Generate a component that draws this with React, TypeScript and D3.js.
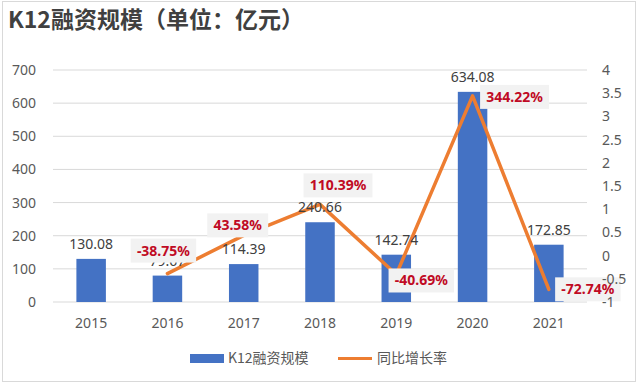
import { useEffect, useRef } from 'react';
import * as d3 from 'd3';

// values
const years = ['2015', '2016', '2017', '2018', '2019', '2020', '2021'];
const funding = [130.08, 79.67, 114.39, 240.66, 142.74, 634.08, 172.85];
const growthYears = ['2016', '2017', '2018', '2019', '2020', '2021'];
const growth = [-0.3875, 0.4358, 1.1039, -0.4069, 3.4422, -0.7274];
const growthLabels = ['-38.75%', '43.58%', '110.39%', '-40.69%', '344.22%', '-72.74%'];
const leftTicks = [0, 100, 200, 300, 400, 500, 600, 700];
const rightTicks = [-1, -0.5, 0, 0.5, 1, 1.5, 2, 2.5, 3, 3.5, 4];

// manual nudges of the growth labels (box centre relative to point), as in the source
const labelNudge: [number, number][] = [[-4, -23], [-6, -10], [18, -19], [25, 6], [42, 1], [39, 0]];

const FONT = "'Noto Sans', 'Noto Sans CJK SC', sans-serif";
const CJK = "'Noto Sans CJK SC', 'Noto Sans', sans-serif";
const BLUE = '#4472C4';
const ORANGE = '#ED7D31';
const RED = '#C00A24';
const GREY = '#595959';

export default function App() {
  const ref = useRef<SVGSVGElement>(null);

  useEffect(() => {
    if (!ref.current) return;
    const W = 640, H = 385;
    const svg = d3.select(ref.current).attr('width', W).attr('height', H);
    svg.selectAll('*').remove();

    svg.append('rect').attr('width', W).attr('height', H).attr('fill', '#fff');
    svg.append('rect').attr('x', 2.5).attr('y', 1.5).attr('width', 633).attr('height', 380)
      .attr('fill', 'none').attr('stroke', '#d9d9d9');

    svg.append('text').attr('x', 8).attr('y', 28)
      .attr('font-family', CJK).attr('font-weight', 700).attr('font-size', 23).attr('fill', '#404040')
      .text('K12融资规模（单位：亿元）');

    const left = 53, right = 587, top = 70, bottom = 302;
    const x = d3.scaleBand().domain(years).range([left, right]).paddingInner(0.615).paddingOuter(0.31);
    const cx = (d: string) => (x(d) as number) + x.bandwidth() / 2;
    const band = (right - left) / years.length;
    const xc = (d: string) => left + band * (years.indexOf(d) + 0.5);
    const yL = d3.scaleLinear().domain([0, 700]).range([bottom, top]);
    const yR = d3.scaleLinear().domain([-1, 4]).range([bottom, top]);

    // gridlines
    svg.append('g').selectAll('line').data(leftTicks).join('line')
      .attr('x1', left).attr('x2', right)
      .attr('y1', d => yL(d)).attr('y2', d => yL(d))
      .attr('stroke', '#d9d9d9').attr('stroke-width', 1);

    // bars
    const bw = 29.5;
    svg.append('g').selectAll('rect').data(years).join('rect')
      .attr('x', d => xc(d) - bw / 2).attr('width', bw)
      .attr('y', (d, i) => yL(funding[i])).attr('height', (d, i) => bottom - yL(funding[i]))
      .attr('fill', BLUE);

    // growth line
    const line = d3.line<number>().x((d, i) => xc(growthYears[i])).y(d => yR(d));
    svg.append('path').datum(growth).attr('d', line)
      .attr('fill', 'none').attr('stroke', ORANGE).attr('stroke-width', 3.5)
      .attr('stroke-linejoin', 'round').attr('stroke-linecap', 'round');

    // bar value labels
    svg.append('g').selectAll('text').data(years).join('text')
      .attr('x', d => xc(d)).attr('y', (d, i) => yL(funding[i]) - 10)
      .attr('text-anchor', 'middle').attr('font-family', FONT).attr('font-size', 14).attr('fill', '#404040')
      .text((d, i) => funding[i].toFixed(2));

    // growth labels with grey boxes
    const lg = svg.append('g');
    growth.forEach((v, i) => {
      const px = xc(growthYears[i]) + labelNudge[i][0];
      const py = yR(v) + labelNudge[i][1];
      const t = lg.append('text').attr('x', px).attr('y', py + 5)
        .attr('text-anchor', 'middle').attr('font-family', FONT).attr('font-weight', 700)
        .attr('font-size', 14).attr('fill', RED).text(growthLabels[i]);
      const bb = (t.node() as SVGTextElement).getBBox();
      lg.insert('rect', () => t.node())
        .attr('x', px - bb.width / 2 - 6).attr('width', bb.width + 12)
        .attr('y', py - 12).attr('height', 24).attr('fill', '#f2f2f2');
    });

    // axis labels
    svg.append('g').selectAll('text').data(leftTicks).join('text')
      .attr('x', 36).attr('y', d => yL(d) + 5)
      .attr('text-anchor', 'end').attr('font-family', FONT).attr('font-size', 14).attr('fill', GREY)
      .text(d => String(d));
    svg.append('g').selectAll('text').data(rightTicks).join('text')
      .attr('x', 602).attr('y', d => yR(d) + 5)
      .attr('font-family', FONT).attr('font-size', 14).attr('fill', GREY)
      .text(d => String(d));
    svg.append('g').selectAll('text').data(years).join('text')
      .attr('x', d => xc(d)).attr('y', 328)
      .attr('text-anchor', 'middle').attr('font-family', FONT).attr('font-size', 14).attr('fill', GREY)
      .text(d => d);

    // legend
    const leg = svg.append('g').attr('font-family', CJK).attr('font-size', 14).attr('fill', GREY);
    leg.append('rect').attr('x', 190).attr('y', 354).attr('width', 34).attr('height', 9).attr('fill', BLUE);
    leg.append('text').attr('x', 228).attr('y', 363).text('K12融资规模');
    leg.append('line').attr('x1', 338).attr('x2', 372).attr('y1', 358.5).attr('y2', 358.5)
      .attr('stroke', ORANGE).attr('stroke-width', 3);
    leg.append('text').attr('x', 377).attr('y', 363).text('同比增长率');
    void cx;
  }, []);

  return (
    <div style={{ position: 'absolute', left: 0, top: 0 }}>
      <svg ref={ref} style={{ display: 'block' }} />
    </div>
  );
}
